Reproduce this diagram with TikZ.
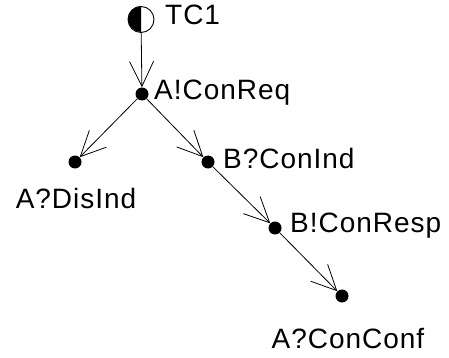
\documentclass[tikz,border=0pt]{standalone}
\usepackage{fontspec}
\setmainfont[LetterSpace=3.5]{Liberation Sans}
\usetikzlibrary{arrows.meta}
\begin{document}
\begin{tikzpicture}[x=1pt,y=-1pt,
  evt/.style={circle,fill=black,inner sep=0pt,minimum size=13pt},
  lbl/.style={inner sep=0pt,font=\fontsize{28}{28}\selectfont},
  edge/.style={line width=0.8pt,-{Straight Barb[length=25pt,width=24pt,line width=0.8pt]}}]
\useasboundingbox (0,0) rectangle (449,358);
% root: half-filled circle
\node[circle,draw,line width=0.9pt,minimum size=26pt,inner sep=0pt] (tc) at (141,19.5) {};
\fill (tc.north) arc[start angle=90,end angle=270,radius=13pt] -- cycle;
\node[lbl,anchor=base west] (tcl) at (165,25) {TC1};
% events
\node[evt] (a) at (142,94) {};
\node[evt] (b) at (75,162) {};
\node[evt] (c) at (208,162) {};
\node[evt] (d) at (275,228) {};
\node[evt] (e) at (342,296) {};
% labels
\node[lbl,anchor=base west] (al) at (154,100) {A!ConReq};
\node[lbl,anchor=base] (bl) at (76,208) {A?DisInd};
\node[lbl,anchor=base west] (cl) at (223,168) {B?ConInd};
\node[lbl,anchor=base west] (dl) at (290,232) {B!ConResp};
\node[lbl,anchor=base] (el) at (348,348) {A?ConConf};
% connectors
\draw[edge] (tc) -- (a);
\draw[edge] (a) -- (b);
\draw[edge] (a) -- (c);
\draw[edge] (c) -- (d);
\draw[edge] (d) -- (e);
\end{tikzpicture}
\end{document}
